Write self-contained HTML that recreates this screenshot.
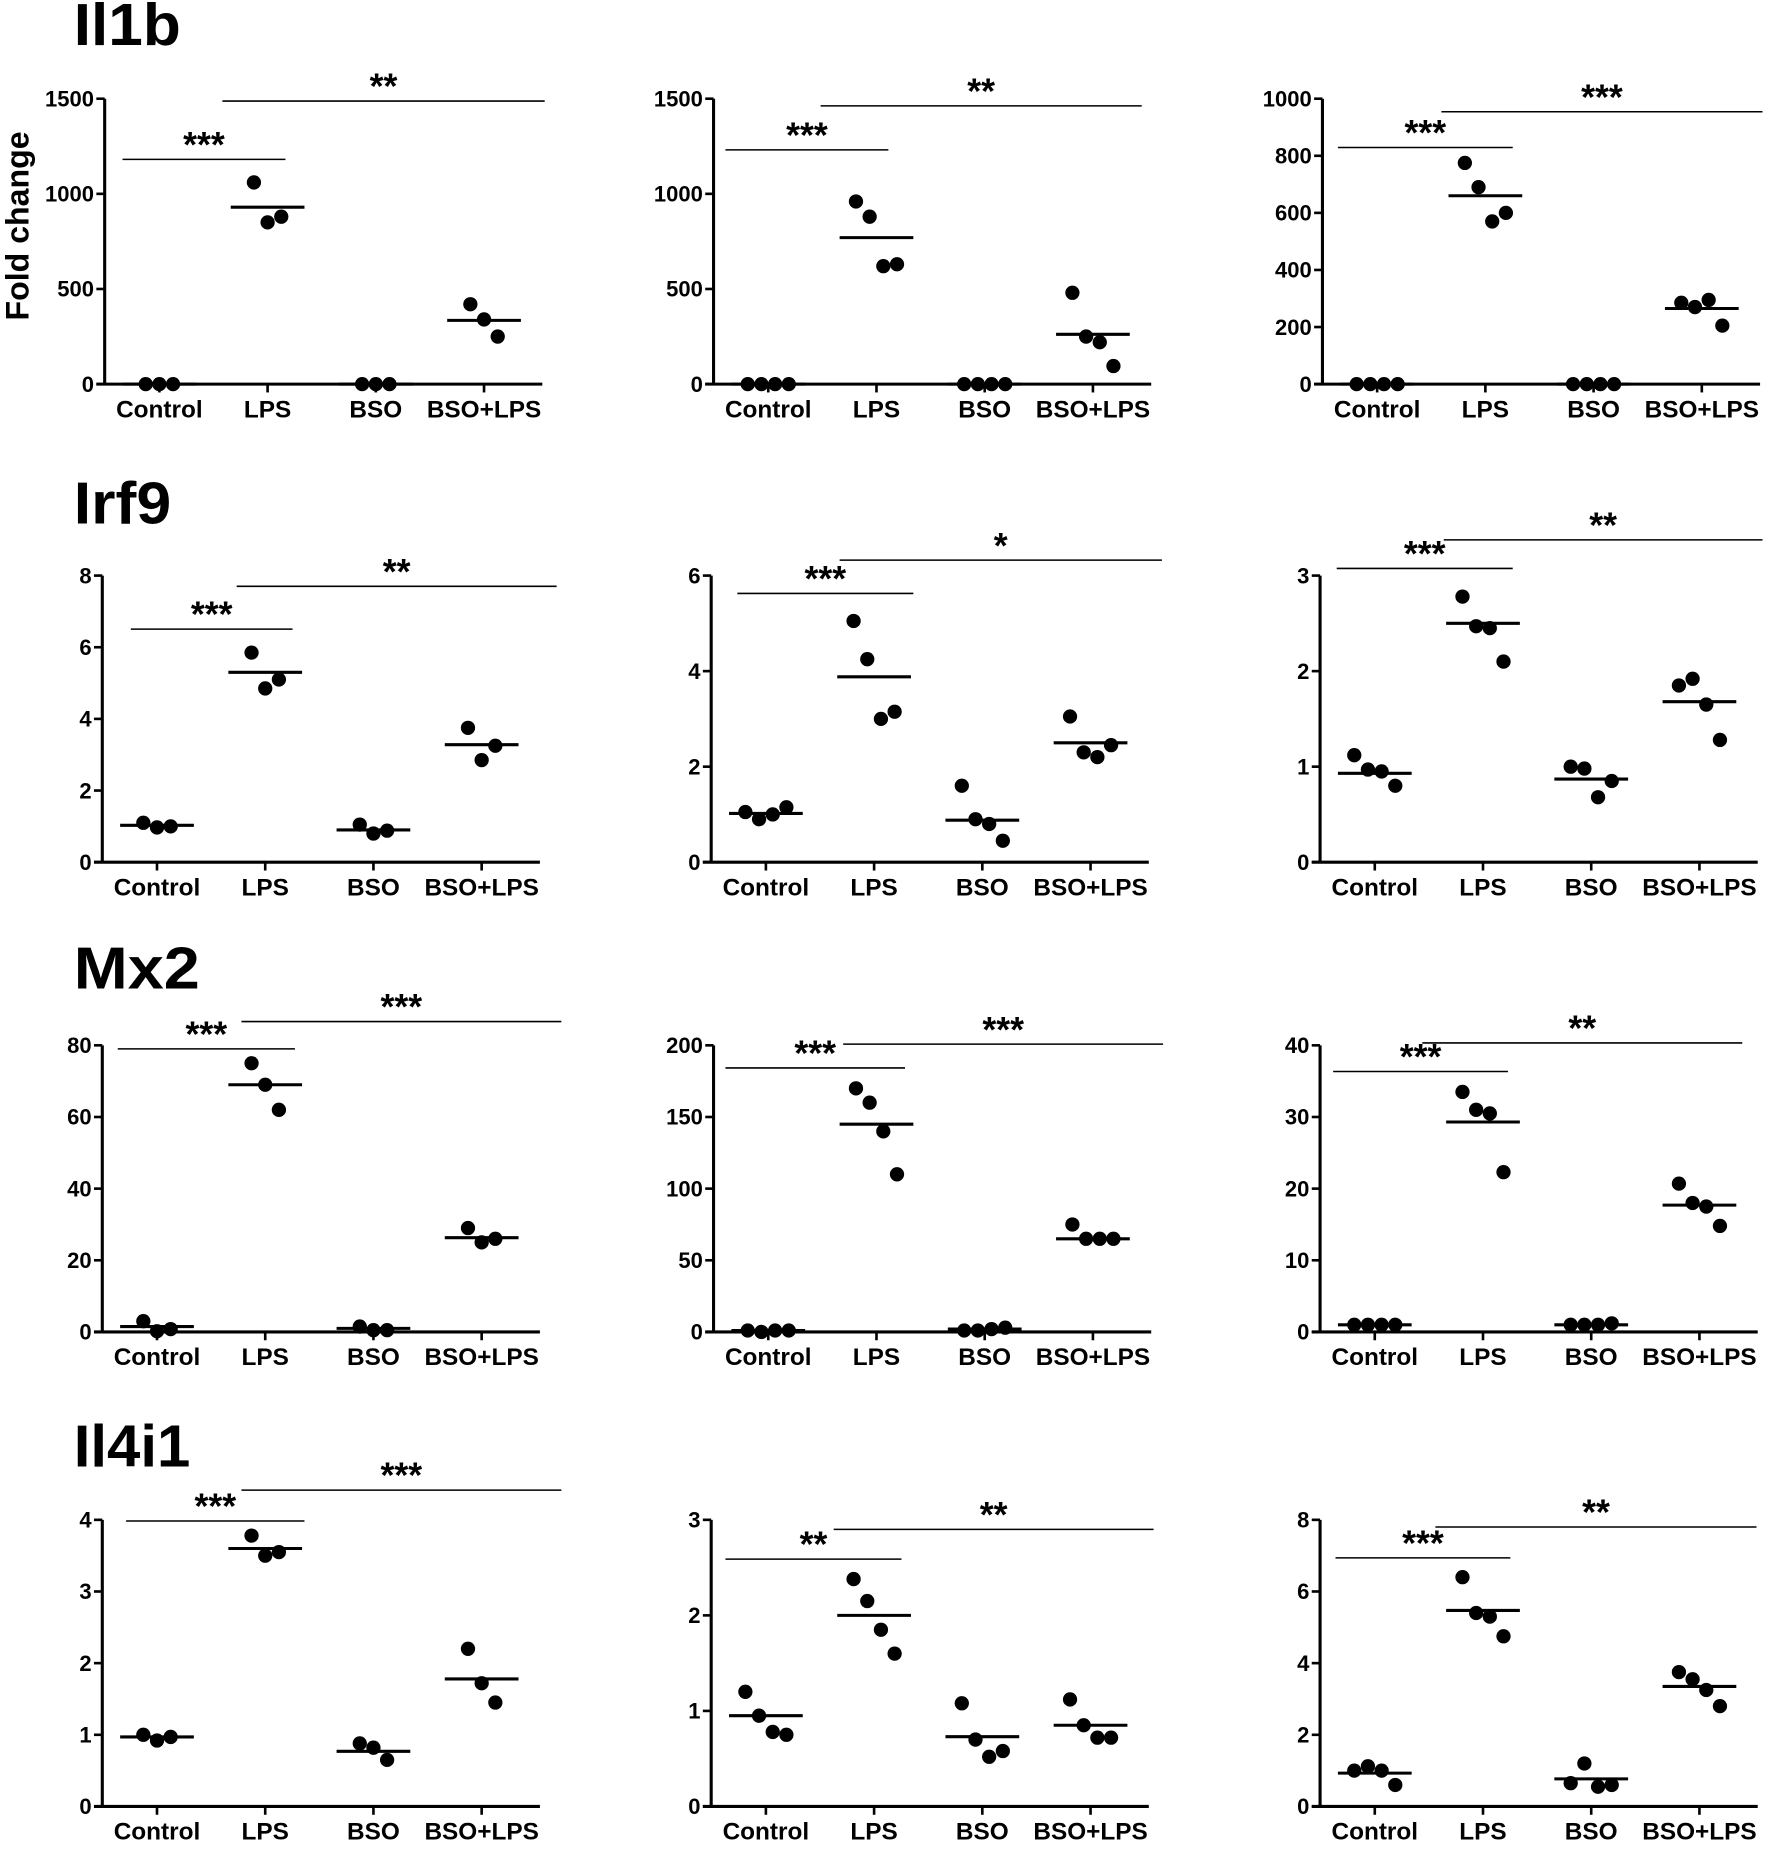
<!DOCTYPE html>
<html><head><meta charset="utf-8">
<style>
html,body{margin:0;padding:0;background:#fff;}
svg{display:block;}
text{font-family:"Liberation Sans",Arial,sans-serif;font-weight:bold;fill:#000;}
</style></head>
<body>
<svg id="fig" xmlns="http://www.w3.org/2000/svg" width="1772" height="1869" viewBox="0 0 1490 1571.6">
<text x="62" y="38" font-size="50" textLength="90" lengthAdjust="spacingAndGlyphs">Il1b</text>
<text x="62" y="440" font-size="50" textLength="82" lengthAdjust="spacingAndGlyphs">Irf9</text>
<text x="62" y="831" font-size="50" textLength="106" lengthAdjust="spacingAndGlyphs">Mx2</text>
<text x="62" y="1233" font-size="50" textLength="98" lengthAdjust="spacingAndGlyphs">Il4i1</text>
<text transform="translate(24,190) rotate(-90)" text-anchor="middle" font-size="27">Fold change</text>
<g id="plots"></g>
</svg>
<script>
const categories = ["Control","LPS","BSO","BSO+LPS"];

// Il1b
const p1Values = [[0,0,0],[1060,850,880],[0,0,0],[420,340,250]];
const p1Means = [0,930,0,335];
const p1Ticks = [0,500,1000,1500];
const p2Values = [[0,0,0,0],[960,880,620,630],[0,0,0,0],[480,250,220,95]];
const p2Means = [0,770,0,262];
const p2Ticks = [0,500,1000,1500];
const p3Values = [[0,0,0,0],[775,690,570,600],[0,0,0,0],[285,270,295,205]];
const p3Means = [0,660,0,265];
const p3Ticks = [0,200,400,600,800,1000];
// Irf9
const p4Values = [[1.1,0.97,1.0],[5.85,4.85,5.1],[1.05,0.8,0.88],[3.75,2.85,3.25]];
const p4Means = [1.03,5.3,0.9,3.28];
const p4Ticks = [0,2,4,6,8];
const p5Values = [[1.05,0.9,1.0,1.15],[5.05,4.25,3.0,3.15],[1.6,0.9,0.8,0.45],[3.05,2.3,2.2,2.45]];
const p5Means = [1.02,3.88,0.88,2.5];
const p5Ticks = [0,2,4,6];
const p6Values = [[1.12,0.97,0.95,0.8],[2.78,2.47,2.45,2.1],[1.0,0.98,0.68,0.85],[1.85,1.92,1.65,1.28]];
const p6Means = [0.93,2.5,0.87,1.68];
const p6Ticks = [0,1,2,3];
// Mx2
const p7Values = [[3,0.2,0.8],[75,69,62],[1.5,0.5,0.5],[29,25,26]];
const p7Means = [1.5,69,1,26.3];
const p7Ticks = [0,20,40,60,80];
const p8Values = [[1,0,1,1],[170,160,140,110],[1,1,2,3],[75,65,65,65]];
const p8Means = [1,145,2,65];
const p8Ticks = [0,50,100,150,200];
const p9Values = [[1,1,1,1],[33.5,31,30.5,22.3],[1,1,1,1.2],[20.7,18,17.5,14.8]];
const p9Means = [1,29.3,1,17.7];
const p9Ticks = [0,10,20,30,40];
// Il4i1
const p10Values = [[1.0,0.92,0.97],[3.78,3.5,3.55],[0.88,0.82,0.65],[2.2,1.72,1.45]];
const p10Means = [0.97,3.6,0.77,1.78];
const p10Ticks = [0,1,2,3,4];
const p11Values = [[1.2,0.95,0.78,0.75],[2.38,2.15,1.85,1.6],[1.08,0.7,0.52,0.58],[1.12,0.85,0.72,0.72]];
const p11Means = [0.95,2.0,0.73,0.85];
const p11Ticks = [0,1,2,3];
const p12Values = [[1.0,1.12,1.0,0.6],[6.4,5.4,5.3,4.75],[0.65,1.2,0.55,0.6],[3.75,3.55,3.25,2.8]];
const p12Means = [0.93,5.47,0.77,3.35];
const p12Ticks = [0,2,4,6,8];

const p1Stars = ["***","**"], p2Stars = ["***","**"], p3Stars = ["***","***"];
const p4Stars = ["***","**"], p5Stars = ["***","*"], p6Stars = ["***","**"];
const p7Stars = ["***","***"], p8Stars = ["***","***"], p9Stars = ["***","**"];
const p10Stars = ["***","***"], p11Stars = ["**","**"], p12Stars = ["***","**"];

const panels = [
 {name:"il1b-1",v:p1Values,m:p1Means,t:p1Ticks,s:p1Stars,ax:88,y0:323,yT:83,b1:[103,240,134],b2:[187,458,85]},
 {name:"il1b-2",v:p2Values,m:p2Means,t:p2Ticks,s:p2Stars,ax:600,y0:323,yT:83,b1:[610,747,126],b2:[690,960,89]},
 {name:"il1b-3",v:p3Values,m:p3Means,t:p3Ticks,s:p3Stars,ax:1112,y0:323,yT:83,b1:[1125,1272,124],b2:[1212,1482,94]},
 {name:"irf9-1",v:p4Values,m:p4Means,t:p4Ticks,s:p4Stars,ax:86,y0:725,yT:484,b1:[110,246,529],b2:[199,468,493]},
 {name:"irf9-2",v:p5Values,m:p5Means,t:p5Ticks,s:p5Stars,ax:598,y0:725,yT:484,b1:[620,768,499],b2:[706,977,471]},
 {name:"irf9-3",v:p6Values,m:p6Means,t:p6Ticks,s:p6Stars,ax:1110,y0:725,yT:484,b1:[1124,1272,478],b2:[1214,1482,454]},
 {name:"mx2-1",v:p7Values,m:p7Means,t:p7Ticks,s:p7Stars,ax:86,y0:1120,yT:879,b1:[99,248,882],b2:[203,472,859]},
 {name:"mx2-2",v:p8Values,m:p8Means,t:p8Ticks,s:p8Stars,ax:600,y0:1120,yT:879,b1:[610,761,898],b2:[709,978,878]},
 {name:"mx2-3",v:p9Values,m:p9Means,t:p9Ticks,s:p9Stars,ax:1110,y0:1120,yT:879,b1:[1121,1268,901],b2:[1196,1465,877]},
 {name:"il4i1-1",v:p10Values,m:p10Means,t:p10Ticks,s:p10Stars,ax:86,y0:1519,yT:1278,b1:[106,256,1279],b2:[203,472,1253]},
 {name:"il4i1-2",v:p11Values,m:p11Means,t:p11Ticks,s:p11Stars,ax:598,y0:1519,yT:1278,b1:[610,758,1311],b2:[701,970,1286]},
 {name:"il4i1-3",v:p12Values,m:p12Means,t:p12Ticks,s:p12Stars,ax:1110,y0:1519,yT:1278,b1:[1123,1270,1310],b2:[1207,1477,1284]}
];

const NS = "http://www.w3.org/2000/svg";
const root = document.getElementById("plots");
function mk(tag, attrs, parent){
  const e = document.createElementNS(NS, tag);
  for (const k in attrs) e.setAttribute(k, attrs[k]);
  parent.appendChild(e);
  return e;
}

panels.forEach(p => {
  const g = mk("g", {}, root);
  
  
  const maxV = p.t[p.t.length-1];
  const yScale = v => p.y0 - (v / maxV) * (p.y0 - p.yT);
  const xScale = i => p.ax + 46 + i * 91;
  const xEnd = p.ax + 368;

  const ya = mk("line", {x1:p.ax, y1:p.yT, x2:p.ax, y2:p.y0+1, stroke:"#000","stroke-width":2.6}, g);
  
  
  const xa = mk("line", {x1:p.ax-7, y1:p.y0, x2:xEnd, y2:p.y0, stroke:"#000","stroke-width":2.6}, g);
  
  

  p.t.forEach(tv => {
    const y = yScale(tv);
    mk("line", {x1:p.ax-7, y1:y, x2:p.ax, y2:y, stroke:"#000","stroke-width":2.2}, g);
    const tl = mk("text", {x:p.ax-9, y:y+6.5, "text-anchor":"end","font-size":18.5}, g);
    tl.textContent = tv;
    
    
  });

  categories.forEach((c, i) => {
    const x = xScale(i);
    mk("line", {x1:x, y1:p.y0, x2:x, y2:p.y0+7, stroke:"#000","stroke-width":2.2}, g);
    const cl = mk("text", {x:x, y:p.y0+28, "text-anchor":"middle","font-size":20.5}, g);
    cl.textContent = c;
    
    

    const vals = p.v[i];
    const n = vals.length;
    vals.forEach((v, j) => {
      const dot = mk("circle", {cx: x + (j - (n-1)/2) * 11.5, cy: yScale(v), r: 6, fill:"#000"}, g);
      
      
    });
    const my = yScale(p.m[i]);
    const ml = mk("line", {x1:x-31, y1:my, x2:x+31, y2:my, stroke:"#000","stroke-width":2.6}, g);
    
    
  });

  [[p.b1, p.s[0]], [p.b2, p.s[1]]].forEach(([b, st]) => {
    const sl = mk("line", {x1:b[0], y1:b[2], x2:b[1], y2:b[2], stroke:"#000","stroke-width":1.3}, g);
    
    
    const tx = mk("text", {x:(b[0]+b[1])/2, y:b[2]-2, "text-anchor":"middle","font-size":30}, g);
    tx.textContent = st;
    
    
  });
});
</script>
</body></html>
